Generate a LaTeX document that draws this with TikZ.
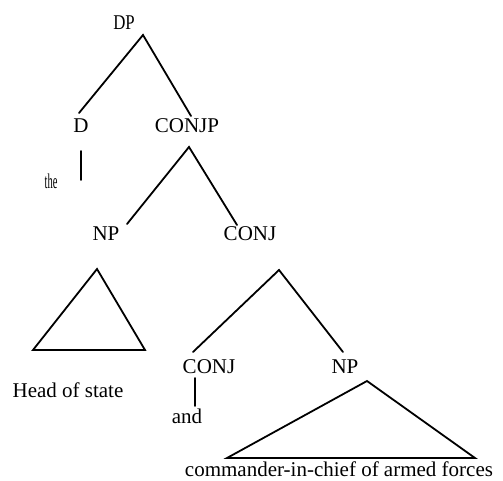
\documentclass[tikz,border=0pt]{standalone}
\usepackage{fontspec}
\setmainfont{Liberation Serif}
\usetikzlibrary{positioning}
\tikzset{
  label/.style={anchor=base, inner sep=0pt},
  branch/.style={line width=0.9pt, line cap=round}
}

\begin{document}
\begin{tikzpicture}[x=0.5pt, y=-0.5pt, font=\fontsize{10.5}{12}\selectfont]
  \useasboundingbox (0,0) rectangle (503,481);
  % Labels
  \node[label] (dp) at (124,30) {\scalebox{0.8}[1]{DP}};
  \node[label] (d) at (81,133) {D};
  \node[label] (conjp) at (187,133) {CONJP};
  \node[label] (the) at (51,188) {\scalebox{0.5}[1]{the}};
  \node[label] (np1) at (106,240) {NP};
  \node[label] (conj1) at (250,240) {CONJ};
  \node[label] (head) at (68,397) {Head of state};
  \node[label] (conj2) at (209,373) {CONJ};
  \node[label] (np2) at (345,373) {NP};
  \node[label] (and) at (187,423) {and};
  \node[label] (cic) at (339,476) {commander-in-chief of armed forces};
  % Branch ends
  \coordinate (dp-top) at (143,35);
  \coordinate (dp-l) at (79,113);
  \coordinate (dp-r) at (191,116);
  \coordinate (d-top) at (81,151);
  \coordinate (d-bot) at (81,180);
  \coordinate (conjp-top) at (189,147);
  \coordinate (conjp-l) at (127,224);
  \coordinate (conjp-r) at (237,225);
  \coordinate (np1-top) at (97,269);
  \coordinate (np1-l) at (33,350);
  \coordinate (np1-r) at (145,350);
  \coordinate (conj1-top) at (279,270);
  \coordinate (conj1-l) at (193,352);
  \coordinate (conj1-r) at (343,352);
  \coordinate (conj2-top) at (195,378);
  \coordinate (conj2-bot) at (195,406);
  \coordinate (np2-top) at (367,381);
  \coordinate (np2-l) at (227,458);
  \coordinate (np2-r) at (475,458);
  % Branches
  \draw[branch] (dp-l) -- (dp-top) -- (dp-r);
  \draw[branch] (d-top) -- (d-bot);
  \draw[branch] (conjp-l) -- (conjp-top) -- (conjp-r);
  \draw[branch] (np1-top) -- (np1-l) -- (np1-r) -- cycle;
  \draw[branch] (conj1-l) -- (conj1-top) -- (conj1-r);
  \draw[branch] (conj2-top) -- (conj2-bot);
  \draw[branch] (np2-top) -- (np2-l) -- (np2-r) -- cycle;
\end{tikzpicture}
\end{document}
